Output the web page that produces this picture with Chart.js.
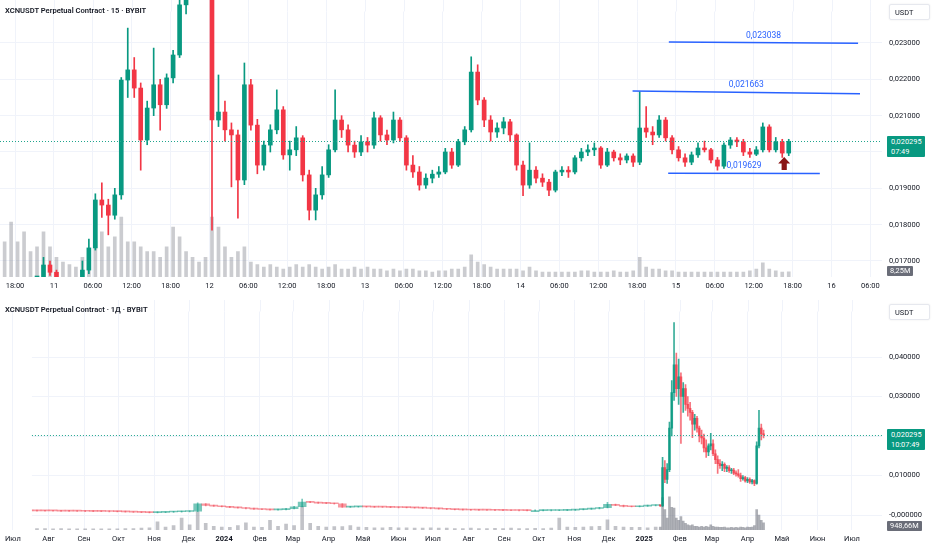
<!DOCTYPE html>
<html><head><meta charset="utf-8">
<script src="https://cdn.jsdelivr.net/npm/chart.js@4.4.1/dist/chart.umd.min.js"></script>
<style>
body{margin:0;background:#fff;width:932px;height:550px;position:relative;overflow:hidden;font-family:Roboto,"Liberation Sans",sans-serif;color:#131722}
canvas{position:absolute;left:0}
.title{position:absolute;left:5px;font-size:7.6px;font-weight:600;white-space:nowrap;line-height:10px}
.unit{position:absolute;left:889px;width:41px;height:16px;background:#fff;border:1px solid #e6e8ee;border-radius:2px;font-size:7.4px;line-height:16px;padding-left:5px;box-sizing:border-box;box-shadow:0 0 2px rgba(0,0,0,.08)}
.pbox{position:absolute;left:887px;width:38px;background:#089981;color:#fff;font-size:7.4px;line-height:9.5px;padding:1px 0 1px 4px;box-sizing:border-box;border-radius:1px}
.vbox{position:absolute;left:887px;background:#6a6d78;color:#fff;font-size:7.4px;line-height:10px;height:10px;padding:0 3px;border-radius:1px;white-space:nowrap}
</style></head><body>
<canvas id="c1" width="932" height="300" style="top:0"></canvas>
<canvas id="c2" width="932" height="250" style="top:300px"></canvas>
<div class="title" style="top:6px">XCNUSDT Perpetual Contract · 15 · BYBIT</div>
<div class="title" style="top:305px">XCNUSDT Perpetual Contract · 1Д · BYBIT</div>
<div class="unit" style="top:4px">USDT</div>
<div class="unit" style="top:304px">USDT</div>
<div class="pbox" style="top:136px">0,020295<br>07:49</div>
<div class="pbox" style="top:429px">0,020295<br>10:07:49</div>
<div class="vbox" style="top:266px">8,25M</div>
<div class="vbox" style="top:521px">948,66M</div>
<script>
// ---------- top chart (15m chart, aggregated hourly) ----------
const tStartH = -1.6; // hours relative to 10th 18:00 of first candle
const tOpen = [
.01640,.01634,.01639,.01636,.01631,.01642,.01642,.01689,.01669,.01650,
.01625,.01620,.01628,.01675,.01736,.01868,.01854,.01826,.01882,.02198,
.02226,.02176,.02033,.02121,.02185,.02130,.02204,.02267,.02405,.02474,
.02501,.02488,.02460,.02088,.02110,.02061,.02047,.01923,.02185,.02074,
.01964,.02019,.02061,.02116,.01992,.02006,.02039,.01937,.01840,.01882,
.01937,.02006,.02088,.02061,.02019,.02000,.02028,.02019,.02094,.02047,
.02033,.02088,.02039,.01964,.01945,.01909,.01928,.01939,.01945,.02000,
.01964,.02028,.02061,.02220,.02143,.02088,.02055,.02066,.02083,.02047,
.01964,.01909,.01950,.01928,.01917,.01895,.01945,.01950,.01945,.01984,
.02000,.02006,.02011,.01964,.02000,.01984,.01978,.01989,.01972,.02066,
.02055,.02047,.02088,.02039,.02006,.01984,.01972,.01992,.02011,.02006,
.01978,.01961,.02019,.02033,.02028,.02000,.01994,.02006,.02069,.02006,
.02028,.01997];
const tHigh = [
.01655,.01650,.01648,.01645,.01650,.01650,.01710,.01700,.01675,.01655,
.01635,.01640,.01700,.01760,.01885,.01915,.01870,.01900,.02205,.02341,
.02260,.02190,.02140,.02286,.02200,.02215,.02280,.02430,.02500,.02530,
.02520,.02500,.02470,.02212,.02140,.02080,.02060,.02245,.02200,.02090,
.02030,.02075,.02171,.02125,.02030,.02070,.02045,.01950,.01900,.01960,
.02020,.02171,.02100,.02075,.02030,.02045,.02040,.02110,.02100,.02060,
.02110,.02095,.02045,.01990,.01960,.01940,.01950,.01960,.02010,.02010,
.02035,.02070,.02262,.02240,.02150,.02100,.02080,.02095,.02090,.02050,
.01975,.02025,.01960,.01940,.01925,.01950,.01960,.01960,.01990,.02010,
.02020,.02025,.02015,.02010,.02005,.01995,.01995,.01995,.02166,.02125,
.02070,.02100,.02095,.02045,.02015,.01995,.02000,.02025,.02030,.02010,
.01985,.02025,.02040,.02040,.02035,.02010,.02015,.02080,.02075,.02040,
.02035,.02035];
const tLow = [
.01625,.01628,.01630,.01625,.01628,.01638,.01640,.01660,.01640,.01620,
.01610,.01612,.01620,.01665,.01730,.01820,.01772,.01815,.01870,.02150,
.02150,.01950,.02020,.02100,.02060,.02120,.02190,.02260,.02380,.02450,
.02460,.02440,.01785,.02070,.02030,.01904,.01818,.01910,.02060,.01940,
.01950,.02000,.02050,.01980,.01950,.01990,.01920,.01813,.01813,.01870,
.01930,.02000,.02040,.02000,.01985,.01990,.02000,.02010,.02030,.02020,
.02025,.02030,.01950,.01930,.01895,.01900,.01915,.01930,.01940,.01955,
.01960,.02020,.02055,.02130,.02070,.02030,.02040,.02050,.02030,.01950,
.01880,.01900,.01915,.01905,.01880,.01890,.01935,.01930,.01940,.01975,
.01990,.01990,.01955,.01960,.01975,.01965,.01970,.01960,.01965,.02040,
.02020,.02040,.02030,.01995,.01975,.01960,.01965,.01985,.02000,.01970,
.01950,.01955,.02010,.02015,.01990,.01985,.01990,.02000,.02000,.02000,
.01985,.01990];
const tClose = [
.01634,.01639,.01636,.01631,.01642,.01642,.01689,.01669,.01650,.01625,
.01620,.01628,.01675,.01736,.01868,.01854,.01826,.01882,.02198,.02226,
.02176,.02033,.02121,.02185,.02130,.02204,.02267,.02405,.02474,.02501,
.02488,.02460,.02088,.02110,.02061,.02047,.01923,.02185,.02074,.01964,
.02019,.02061,.02116,.01992,.02006,.02039,.01937,.01840,.01882,.01937,
.02006,.02088,.02061,.02019,.02000,.02028,.02019,.02094,.02047,.02033,
.02088,.02039,.01964,.01945,.01909,.01928,.01939,.01945,.02000,.01964,
.02028,.02061,.02220,.02143,.02088,.02055,.02066,.02083,.02047,.01964,
.01909,.01950,.01928,.01917,.01895,.01945,.01950,.01945,.01984,.02000,
.02006,.02011,.01964,.02000,.01984,.01978,.01989,.01972,.02066,.02055,
.02047,.02088,.02039,.02006,.01984,.01972,.01992,.02011,.02006,.01978,
.01961,.02019,.02033,.02028,.02000,.01994,.02006,.02069,.02006,.02028,
.01997,.020295];
const tVol = [
57,89,57,73,41,49,73,49,32,24,
20,16,32,41,57,73,49,65,97,57,
57,49,41,41,32,49,81,65,41,32,
24,32,97,81,49,32,41,49,24,20,
16,20,16,13,16,20,16,20,16,13,
16,20,13,13,16,13,16,13,13,10,
13,10,13,13,10,10,8,10,10,13,
13,16,36,24,20,16,13,13,13,13,
10,16,10,8,8,8,8,8,8,10,
10,8,8,8,10,8,8,10,32,16,
13,13,10,10,8,8,8,8,8,8,
8,8,8,8,8,10,13,23,13,10,
8,8.25];
const tTickH = [0,6,12,18,24,30,36,42,48,54,60,66,72,78,84,90,96,102,108,114,120,126,132];
const tTickLabels = ['18:00','11','06:00','12:00','18:00','12','06:00','12:00','18:00','13','06:00','12:00','18:00','14','06:00','12:00','18:00','15','06:00','12:00','18:00','16','06:00'];
const tPriceTicks = [0.017,0.018,0.019,0.020,0.021,0.022,0.023];
const tPriceLabels = ['0,017000','0,018000','0,019000','','0,021000','0,022000','0,023000'];
// drawn levels (trend lines): start/end hour, start/end price, label
const lvlH0 = [100.9, 95.3, 100.8];
const lvlH1 = [130.1, 130.4, 124.2];
const lvlP0 = [0.02303, 0.02168, 0.019415];
const lvlP1 = [0.02299, 0.02160, 0.019405];
const lvlText = ['0,023038','0,021663','0,019629'];
const arrowH = 118.7, arrowP = 0.01986;
const lastPrice = 0.020295;

// ---------- bottom chart (daily) ----------
// day index counted from 2023-07-01
const bWDay = [0,7,14,21,28,35,42,49,56,63,70,77,84,91,98,105,112,119,126,133,140,147,154,161,168,175,182,189,196,203,210,217,224,231,238,245,252,259,266,273,280,287,294,301,308,315,322,329,336,343,350,357,364,371,378,385,392,399,406,413,420,427,434,441,448,455,462,469,476,483,490,497,504,511,518,525,532,539,546,553,560];
const bWOpen = [
.00111,.00110,.00108,.00106,.00105,.00104,.00103,.00100,.00098,.00097,
.00095,.00093,.00090,.00088,.00085,.00080,.00072,.00065,.00062,.00066,
.00075,.00082,.00088,.00095,.00280,.00240,.00225,.00210,.00195,.00180,
.00165,.00150,.00140,.00130,.00135,.00160,.00210,.00330,.00320,.00300,
.00295,.00285,.00200,.00205,.00210,.00205,.00200,.00198,.00195,.00190,
.00185,.00180,.00175,.00165,.00155,.00145,.00135,.00130,.00127,.00125,
.00122,.00120,.00118,.00115,.00113,.00112,.00112,.00114,.00115,.00118,
.00122,.00135,.00150,.00165,.00185,.00270,.00245,.00215,.00210,.00225,
.00240];
const bWHigh = [
.00119,.00118,.00116,.00114,.00113,.00112,.00111,.00108,.00106,.00105,
.00103,.00101,.00098,.00096,.00093,.00088,.00080,.00073,.00070,.00083,
.00090,.00096,.00103,.00310,.00290,.00248,.00233,.00218,.00203,.00188,
.00173,.00158,.00148,.00143,.00168,.00218,.00400,.00340,.00328,.00308,
.00303,.00290,.00213,.00218,.00218,.00213,.00208,.00206,.00203,.00198,
.00193,.00188,.00183,.00173,.00163,.00153,.00143,.00138,.00135,.00133,
.00130,.00128,.00126,.00123,.00121,.00120,.00122,.00123,.00126,.00130,
.00143,.00158,.00173,.00193,.00320,.00278,.00253,.00223,.00233,.00248,
.00253];
const bWLow = [
.00102,.00100,.00098,.00097,.00096,.00095,.00092,.00090,.00089,.00087,
.00085,.00082,.00080,.00077,.00072,.00064,.00057,.00054,.00054,.00058,
.00067,.00074,.00080,.00087,.00232,.00217,.00202,.00187,.00172,.00157,
.00142,.00132,.00122,.00122,.00127,.00152,.00205,.00312,.00292,.00287,
.00277,.00190,.00192,.00197,.00197,.00192,.00190,.00187,.00182,.00177,
.00172,.00167,.00157,.00147,.00137,.00127,.00122,.00119,.00117,.00114,
.00112,.00110,.00107,.00105,.00104,.00104,.00104,.00106,.00107,.00110,
.00114,.00127,.00142,.00157,.00180,.00237,.00207,.00202,.00202,.00217,
.00232];
const bWClose = [
.00110,.00108,.00106,.00105,.00104,.00103,.00100,.00098,.00097,.00095,
.00093,.00090,.00088,.00085,.00080,.00072,.00065,.00062,.00066,.00075,
.00082,.00088,.00095,.00280,.00240,.00225,.00210,.00195,.00180,.00165,
.00150,.00140,.00130,.00135,.00160,.00210,.00330,.00320,.00300,.00295,
.00285,.00200,.00205,.00210,.00205,.00200,.00198,.00195,.00190,.00185,
.00180,.00175,.00165,.00155,.00145,.00135,.00130,.00127,.00125,.00122,
.00120,.00118,.00115,.00113,.00112,.00112,.00114,.00115,.00118,.00122,
.00135,.00150,.00165,.00185,.00270,.00245,.00215,.00210,.00225,.00240,
.00245];
const bWVol = [
200,250,200,180,200,170,180,160,170,150,
160,150,170,160,180,200,250,300,1100,400,
600,1600,700,2400,900,500,400,350,600,950,
400,350,1300,500,800,600,3100,900,500,400,
450,450,600,400,350,300,300,350,300,300,
250,250,300,250,250,200,200,250,200,200,
220,200,250,200,200,220,200,250,1600,400,
350,400,450,500,1350,500,400,350,350,300,
400];
const bDDay = [564,566,568,570,572,574,576,578,580,582,584,586,588,590,592,594,596,598,600,602,604,606,608,610,612,614,616,618,620,622,624,626,628,630,632,634,636,638,640,642,644,646,648,650,652,654];
const bDOpen = [
.0024,.0023,.0120,.0090,.0115,.0220,.0310,.0380,.0320,.0350,
.0300,.0320,.0280,.0270,.0260,.0230,.0245,.0220,.0200,.0195,
.0170,.0160,.0175,.0180,.0155,.0140,.0130,.0125,.0128,.0118,
.0120,.0112,.0114,.0106,.0104,.0100,.0092,.0095,.0086,.0090,
.0084,.0087,.0080,.0175,.0220,.0205];
const bDHigh = [
.0026,.0146,.0138,.0130,.0235,.0340,.0487,.0410,.0395,.0360,
.0335,.0330,.0300,.0285,.0265,.0255,.0250,.0225,.0215,.0205,
.0190,.0180,.0207,.0190,.0165,.0150,.0140,.0135,.0132,.0125,
.0125,.0118,.0118,.0112,.0115,.0106,.0100,.0098,.0095,.0094,
.0090,.0089,.0185,.0265,.0230,.0215];
const bDLow = [
.0022,.0022,.0082,.0080,.0110,.0200,.0290,.0300,.0280,.0181,
.0260,.0265,.0250,.0240,.0196,.0215,.0210,.0185,.0180,.0160,
.0146,.0150,.0165,.0150,.0130,.0105,.0118,.0112,.0110,.0110,
.0108,.0105,.0102,.0098,.0096,.0085,.0088,.0083,.0082,.0080,
.0079,.0074,.0078,.0170,.0190,.0195];
const bDClose = [
.0023,.0120,.0090,.0115,.0220,.0310,.0380,.0320,.0350,.0300,
.0320,.0280,.0270,.0260,.0230,.0245,.0220,.0200,.0195,.0170,
.0160,.0175,.0180,.0155,.0140,.0130,.0125,.0128,.0118,.0120,
.0112,.0114,.0106,.0104,.0100,.0092,.0095,.0086,.0090,.0084,
.0087,.0080,.0175,.0220,.0205,.020295];
const bDVol = [
400,4300,2700,1600,4400,3000,2900,1600,1300,1800,
1200,900,700,600,700,500,500,400,500,400,
500,400,700,500,400,400,350,350,400,300,
300,350,300,350,300,400,350,300,400,350,
400,600,2700,2000,1300,949];
const bMonthDays = [0,31,62,92,123,153,184,215,244,275,305,336,366,397,428,458,489,519,550,581,609,640,670,701,731];
const bMonthLabels = ['Июл','Авг','Сен','Окт','Ноя','Дек','2024','Фев','Мар','Апр','Май','Июн','Июл','Авг','Сен','Окт','Ноя','Дек','2025','Фев','Мар','Апр','Май','Июн','Июл'];
const bPriceTicks = [0,0.01,0.02,0.03,0.04];
const bPriceLabels = ['-0,000000','0,010000','','0,030000','0,040000'];

// ---------- rendering ----------
const UP = '#089981', DOWN = '#f23645', GRID = '#f0f3fa', TXT = '#131722';
const UP2 = 'rgba(8,153,129,0.8)', DOWN2 = 'rgba(242,54,69,0.7)';
const UP3 = 'rgba(8,153,129,0.55)', DOWN3 = 'rgba(242,54,69,0.5)';
const FONT = 'Roboto, "Liberation Sans", sans-serif';

function candleSets(xs, o, h, l, c, v, bodyW, wickW, volW, up, down, volC, clipTop) {
  const col = (ctx) => (c[ctx.dataIndex] >= o[ctx.dataIndex] ? up : down);
  const clip = {left:0, top:clipTop, right:0, bottom:0};
  return [
    {type:'bar', order:0, grouped:false, yAxisID:'y', barThickness:bodyW, minBarLength:1, borderWidth:0, clip:clip,
     backgroundColor:col, data:xs.map((x,i)=>({x:x, y:[o[i], c[i]]}))},
    {type:'bar', order:1, grouped:false, yAxisID:'y', barThickness:wickW, minBarLength:1, borderWidth:0, clip:clip,
     backgroundColor:col, data:xs.map((x,i)=>({x:x, y:[l[i], h[i]]}))},
    {type:'bar', order:2, grouped:false, yAxisID:'yv', barThickness:volW, borderWidth:0,
     backgroundColor:volC, data:xs.map((x,i)=>({x:x, y:v[i]}))}
  ];
}

function baseOptions(xMin, xMax, xTicks, xLabels, xH, yMin, yMax, yTicks, yLabels, volMax, padTop, boldSet) {
  return {
    responsive:false, animation:false, events:[],
    layout:{padding:{top:padTop,left:0,right:0,bottom:0}, autoPadding:false},
    plugins:{legend:{display:false}, tooltip:{enabled:false}},
    scales:{
      x:{type:'linear', min:xMin, max:xMax, offset:false,
         grid:{color:GRID, drawTicks:false, offset:false}, border:{display:false},
         afterBuildTicks:(s)=>{ s.ticks = xTicks.map(v=>({value:v})); },
         afterFit:(s)=>{ s.height = xH; },
         ticks:{autoSkip:false, maxRotation:0, padding:5, color:TXT,
           font:(ctx)=>({size:7.5, family:FONT, weight:(ctx.tick && boldSet.includes(ctx.tick.value)) ? 'bold' : 'normal'}),
           callback:(v, i)=>xLabels[i]}},
      y:{type:'linear', position:'right', min:yMin, max:yMax,
         grid:{color:GRID, drawTicks:false}, border:{display:false},
         afterBuildTicks:(s)=>{ s.ticks = yTicks.map(v=>({value:v})); },
         afterFit:(s)=>{ s.width = 50; },
         ticks:{padding:7, color:TXT, font:{size:7.5, family:FONT}, callback:(v, i)=>yLabels[i]}},
      yv:{type:'linear', display:false, min:0, max:volMax}
    }
  };
}

// fit axis ranges so two value anchors land on given canvas pixels
function calibrate(chart, xa, ya, volPerPx) {
  for (let pass = 0; pass < 3; pass++) {
    const a = chart.chartArea, s = chart.options.scales;
    const kx = (xa[3] - xa[1]) / (xa[2] - xa[0]);
    s.x.min = xa[0] + (a.left - xa[1]) / kx;
    s.x.max = xa[0] + (a.right - xa[1]) / kx;
    const ky = (ya[3] - ya[1]) / (ya[2] - ya[0]);
    s.y.min = ya[0] + (a.bottom - ya[1]) / ky;
    s.y.max = ya[0] + (a.top - ya[1]) / ky;
    s.yv.max = (a.bottom - a.top) * volPerPx;
    chart.update('none');
  }
}

// extend vertical grid lines up to the pane top
function gridUp(chart, topPx) {
  const {ctx, chartArea:a, scales:{x}} = chart;
  ctx.save();
  ctx.strokeStyle = GRID; ctx.lineWidth = 1;
  x.ticks.forEach(t => {
    const px = Math.round(x.getPixelForValue(t.value)) + 0.5;
    if (px < a.left || px > a.right) return;
    ctx.beginPath(); ctx.moveTo(px, topPx); ctx.lineTo(px, a.top); ctx.stroke();
  });
  ctx.restore();
}

function priceLine(chart, price) {
  const {ctx, chartArea:a, scales:{y}} = chart;
  const py = Math.round(y.getPixelForValue(price)) + 0.5;
  ctx.save();
  ctx.strokeStyle = '#1fa58d'; ctx.lineWidth = 1; ctx.setLineDash([1,2]);
  ctx.beginPath(); ctx.moveTo(a.left, py); ctx.lineTo(a.right, py); ctx.stroke();
  ctx.restore();
}

const topOverlay = {
  id:'topOverlay',
  beforeDatasetsDraw(chart) { gridUp(chart, 0); },
  afterDatasetsDraw(chart) {
    const {ctx, scales:{x, y}} = chart;
    priceLine(chart, lastPrice);
    ctx.save();
    ctx.strokeStyle = '#2962ff'; ctx.fillStyle = '#2962ff'; ctx.lineWidth = 1.5;
    ctx.font = '8.5px ' + FONT; ctx.textAlign = 'center'; ctx.textBaseline = 'alphabetic';
    for (let i = 0; i < lvlText.length; i++) {
      const x0 = x.getPixelForValue(lvlH0[i]), x1 = x.getPixelForValue(lvlH1[i]);
      const y0 = y.getPixelForValue(lvlP0[i]), y1 = y.getPixelForValue(lvlP1[i]);
      ctx.beginPath(); ctx.moveTo(x0, y0); ctx.lineTo(x1, y1); ctx.stroke();
      ctx.fillText(lvlText[i], (x0 + x1) / 2, (y0 + y1) / 2 - 5);
    }
    const ax = x.getPixelForValue(arrowH), ay = y.getPixelForValue(arrowP);
    ctx.fillStyle = '#8a1414';
    ctx.beginPath();
    ctx.moveTo(ax, ay); ctx.lineTo(ax + 6, ay + 6.5); ctx.lineTo(ax + 2.6, ay + 6.5);
    ctx.lineTo(ax + 2.6, ay + 13); ctx.lineTo(ax - 2.6, ay + 13); ctx.lineTo(ax - 2.6, ay + 6.5);
    ctx.lineTo(ax - 6, ay + 6.5); ctx.closePath(); ctx.fill();
    ctx.restore();
  }
};
const bottomOverlay = {
  id:'bottomOverlay',
  beforeDatasetsDraw(chart) { gridUp(chart, 0); },
  afterDatasetsDraw(chart) { priceLine(chart, lastPrice); }
};

const tX = tClose.map((_, i) => tStartH + i);
const c1 = new Chart(document.getElementById('c1'), {
  type:'bar',
  data:{datasets: candleSets(tX, tOpen, tHigh, tLow, tClose, tVol, 4, 1, 3, UP, DOWN, 'rgba(130,133,143,0.42)', 20)},
  options: baseOptions(-2.31, 133.8, tTickH, tTickLabels, 23, 0.01656, 0.024183, tPriceTicks, tPriceLabels, 450, 0, []),
  plugins:[topOverlay]
});
// anchors: hour 0 -> x 15, hour 126 -> x 831.5 ; price .023 -> y 43, .017 -> y 261
calibrate(c1, [0, 15, 126, 831.5], [0.023, 43, 0.017, 261], 1.62);

const flat = candleSets(bWDay, bWOpen, bWHigh, bWLow, bWClose, bWVol, 8, 1, 3, UP3, DOWN3, 'rgba(120,123,134,0.45)', 20);
const act = candleSets(bDDay, bDOpen, bDHigh, bDLow, bDClose, bDVol, 2, 1, 2, UP2, DOWN2, 'rgba(120,123,134,0.6)', 20);
const c2 = new Chart(document.getElementById('c2'), {
  type:'bar',
  data:{datasets: act.concat(flat)},
  options: baseOptions(-4.14, 757.2, bMonthDays, bMonthLabels, 20, -0.0038, 0.05316, bPriceTicks, bPriceLabels, 30000, 5, [184, 550]),
  plugins:[bottomOverlay]
});
// anchors: day 184 (2024) -> x 218, day 550 (2025) -> x 642 ; price .04 -> y 57, 0 -> y 215 (canvas coords)
calibrate(c2, [184, 218, 550, 642], [0.04, 57, 0, 215], 133);
</script>
</body></html>
